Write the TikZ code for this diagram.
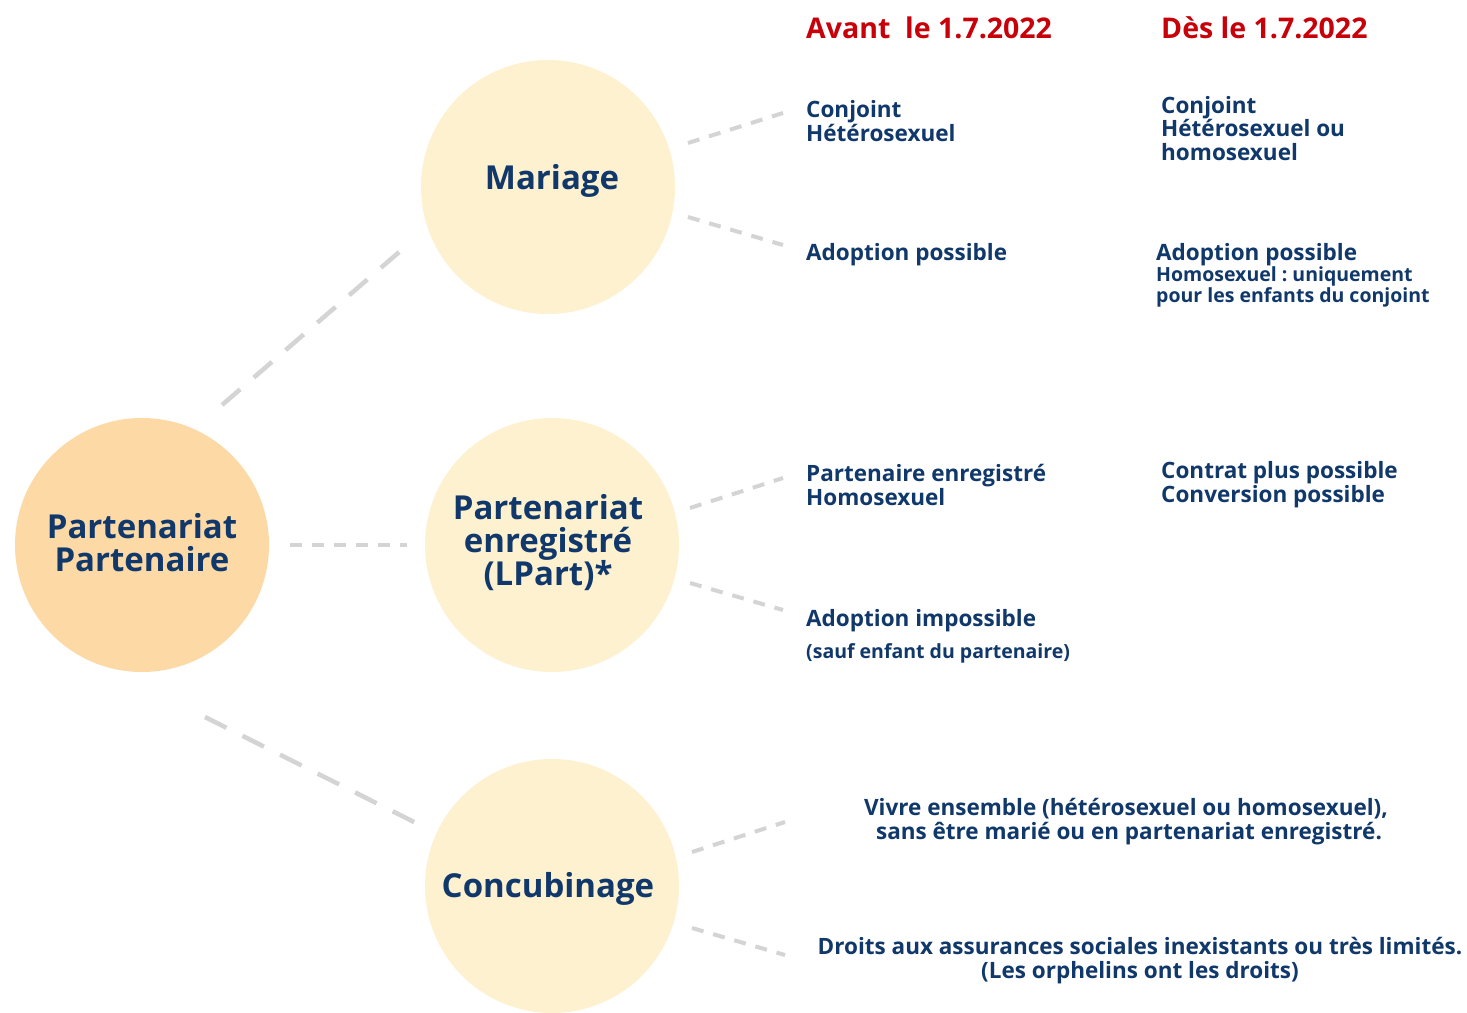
\documentclass[tikz,border=0pt]{standalone}
\usepackage{fontspec}
\setmainfont{Open Sans}
\usetikzlibrary{calc}
\frenchspacing
\definecolor{navy}{HTML}{10386A}
\definecolor{hred}{HTML}{C8000A}
\definecolor{peach}{HTML}{FDD9A6}
\definecolor{cream}{HTML}{FEF1D0}
\definecolor{dgrey}{HTML}{D4D4D4}
\begin{document}
\begin{tikzpicture}[x=1pt,y=-1pt,
  bubble/.style={circle,minimum size=254pt,inner sep=0pt,draw=none},
  ctitle/.style={font=\fontsize{33}{33}\selectfont\bfseries,text=navy,align=center,inner sep=0pt},
  body/.style={font=\fontsize{22.5}{23.5}\selectfont\bfseries,text=navy,align=left,inner sep=0pt,anchor=base west},
  small/.style={font=\fontsize{19.5}{19}\selectfont\bfseries,text=navy,align=left,inner sep=0pt,anchor=base west},
  head/.style={font=\fontsize{28.5}{30}\selectfont\bfseries,text=hred,inner sep=0pt,anchor=base west},
  ctext/.style={font=\fontsize{22.5}{23.5}\selectfont\bfseries,text=navy,align=center,inner sep=0pt,anchor=base},
  longdash/.style={draw=dgrey,line width=4.5pt,dash pattern=on 24pt off 18pt},
  shortdash/.style={draw=dgrey,line width=4pt,dash pattern=on 12pt off 10pt}
]
\useasboundingbox (0,0) rectangle (1467,1012);
\fill[white] (0,0) rectangle (1467,1012);

% bubbles
\node[bubble,fill=peach] (left) at (142,545) {};
\node[bubble,fill=cream] (mar) at (548,187) {};
\node[bubble,fill=cream] (lpart) at (552,545) {};
\node[bubble,fill=cream] (conc) at (552,886) {};

% bubble titles (base = last line)
\node[ctitle,anchor=base] (leftT) at (142,571) {Partenariat\\Partenaire};
\node[ctitle,anchor=base] (marT) at (552,189) {Mariage};
\node[ctitle,anchor=base] (lpartT) at (548,585) {Partenariat\\enregistré\\(LPart)*};
\node[ctitle,anchor=base] (concT) at (548,897) {Concubinage};

% headers
\node[head] (hA) at (806,38) {Avant\ \ le 1.7.2022};
\node[head] (hD) at (1161,38) {Dès le 1.7.2022};

% texts (base west = baseline of last line)
\node[body] (conjA) at (806,141) {Conjoint\\Hétérosexuel};
\node[body] (conjD) at (1161,160) {Conjoint\\Hétérosexuel ou\\homosexuel};
\node[body] (adA) at (806,260) {Adoption possible};
\node[body] (adD) at (1156,260) {Adoption possible};
\node[small] (adD2) at (1156,302) {Homosexuel : uniquement\\pour les enfants du conjoint};
\node[body] (peA) at (806,505) {Partenaire enregistré\\Homosexuel};
\node[body] (peD) at (1161,502) {Contrat plus possible\\Conversion possible};
\node[body] (aiA) at (806,626) {Adoption impossible};
\node[small] (aiA2) at (806,658) {(sauf enfant du partenaire)};
\node[ctext] (viv) at (1126,839) {Vivre ensemble (hétérosexuel ou homosexuel),\\\hspace*{6pt}sans être marié ou en partenariat enregistré.};
\node[ctext] (dro) at (1140,978) {Droits aux assurances sociales inexistants ou très limités.\\(Les orphelins ont les droits)};

% connectors from the main bubble
\draw[longdash] ($(left.center)+(80,-140)$) -- ($(mar.center)+(-143,60)$);
\draw[shortdash] ($(left.center)+(148,0)$) -- ($(lpart.center)+(-145,0)$);
\draw[longdash] ($(left.center)+(63,172)$) -- ($(conc.center)+(-132,-61)$);

% connectors to the texts
\draw[shortdash] ($(mar.center)+(140,-44)$) -- ($(conjA.base west)+(-23,-28)$);
\draw[shortdash] ($(mar.center)+(140,30)$) -- ($(adA.base west)+(-23,-15)$);
\draw[shortdash] ($(lpart.center)+(138,-37)$) -- ($(peA.base west)+(-23,-27)$);
\draw[shortdash] ($(lpart.center)+(138,38)$) -- ($(aiA.base west)+(-23,-16)$);
\draw[shortdash] ($(conc.center)+(140,-34)$) -- ($(viv.base)+(-341,-17)$);
\draw[shortdash] ($(conc.center)+(140,42)$) -- ($(dro.base)+(-355,-23)$);
\end{tikzpicture}
\end{document}
